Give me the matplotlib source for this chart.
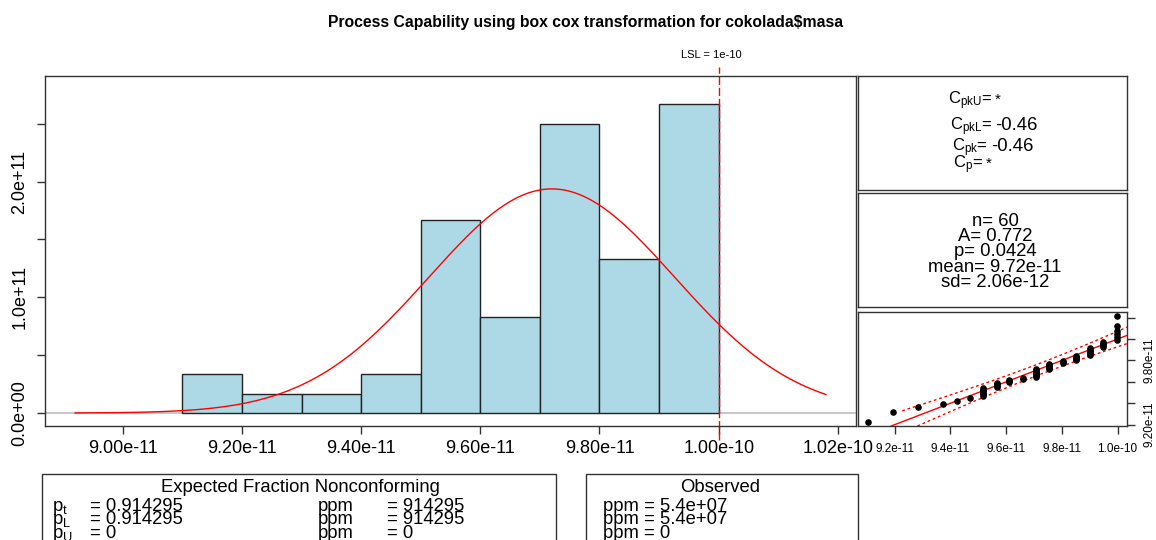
import numpy as np
import matplotlib.pyplot as plt
from matplotlib.patches import Rectangle
from statistics import NormalDist

plt.rcParams['font.family'] = ['Liberation Sans', 'DejaVu Sans']
plt.rcParams['mathtext.fontset'] = 'custom'
plt.rcParams['mathtext.rm'] = 'Liberation Sans'
plt.rcParams['mathtext.it'] = 'Liberation Sans:italic'

# box-cox transformed masses (distinct values and how often they occur)
masa_values = np.array([9.104, 9.194, 9.284, 9.374, 9.422, 9.470, 9.518, 9.566, 9.611,
                        9.659, 9.707, 9.755, 9.803, 9.851, 9.902, 9.947, 9.998]) * 1e-11
masa_counts = [1, 1, 1, 1, 1, 1, 6, 4, 3, 2, 9, 6, 3, 5, 6, 4, 6]
bin_edges = np.array([9.1, 9.2, 9.3, 9.4, 9.5, 9.6, 9.7, 9.8, 9.9, 10.0]) * 1e-11

lsl = 1e-10
fit_mean = 9.72e-11
fit_sd = 2.06e-12
curve_range = [8.92e-11, 1.018e-10]

hist_xticks = np.array([9.0, 9.2, 9.4, 9.6, 9.8, 10.0, 10.2]) * 1e-11
hist_yticks = [0, 0.5e11, 1.0e11, 1.5e11, 2.0e11, 2.5e11]
qq_xticks = np.array([9.2, 9.4, 9.6, 9.8, 10.0]) * 1e-11
qq_yticks = np.array([9.2, 9.4, 9.6, 9.8, 10.0, 10.2]) * 1e-11
qq_ylabeled = [9.2e-11, 9.8e-11]

cap_labels = [r"$\mathrm{C}_{\mathrm{pkU}}$=", r"$\mathrm{C}_{\mathrm{pkL}}$=",
              r"$\mathrm{C}_{\mathrm{pk}}$=", r"$\mathrm{C}_{\mathrm{p}}$="]
cap_values = ["*", "-0.46", "-0.46", "*"]
stat_lines = ["n= 60", "A= 0.772", "p= 0.0424", "mean= 9.72e-11", "sd= 2.06e-12"]
exp_labels = [r"$\mathrm{p}_\mathrm{t}$", r"$\mathrm{p}_\mathrm{L}$", r"$\mathrm{p}_\mathrm{U}$"]
exp_values = ["= 0.914295", "= 0.914295", "= 0"]
exp_ppm = ["= 914295", "= 914295", "= 0"]
obs_ppm = ["ppm = 5.4e+07", "ppm = 5.4e+07", "ppm = 0"]

W, H = 1156, 540
data = np.repeat(masa_values, masa_counts)
n = len(data)


def fx(px):
    return px / W


def fy(py):
    return 1 - py / H


def rect(x0, y0, x1, y1):
    return [fx(x0), fy(y1), fx(x1) - fx(x0), fy(y0) - fy(y1)]


fig = plt.figure(figsize=(W / 100, H / 100), dpi=100)
fig.text(fx(586), fy(22), "Process Capability using box cox transformation for cokolada$masa",
         ha='center', va='center', fontsize=11.3, fontweight='bold')

# --- histogram with fitted normal
ax = fig.add_axes(rect(45, 76, 856, 426))
dens = ax.hist(data, bins=bin_edges, density=True, color='#ADD8E6',
               edgecolor='#222222', linewidth=1)[0]
dist = NormalDist(fit_mean, fit_sd)
xs = np.linspace(curve_range[0], curve_range[1], 150)
ax.plot(xs, [dist.pdf(v) for v in xs], color='red', lw=1)
ax.axhline(0, color='#BEBEBE', lw=1.2, zorder=0)
ax.axvline(lsl, ymin=-0.04, ymax=1.026, color='red', lw=1, ls=(0, (6, 2)), clip_on=False)
ax.annotate("LSL = 1e-10", xy=(lsl, 1), xycoords=('data', 'axes fraction'),
            xytext=(-5, 15), textcoords='offset points', ha='center', va='center', fontsize=8)

span = curve_range[1] - curve_range[0]
ax.set_xlim(curve_range[0] - 0.04 * span, curve_range[1] + 0.04 * span)
ytop = dens.max() * 1.05
ax.set_ylim(-0.04 * ytop, 1.04 * ytop)
ax.set_xticks(hist_xticks)
ax.set_xticklabels(["%.2e" % v for v in hist_xticks])
ax.set_yticks(hist_yticks)
ax.set_yticklabels(["%.1e" % v if v % 1e11 == 0 else "" for v in hist_yticks],
                   rotation=90, va='center')
ax.tick_params(axis='both', length=6, width=1, labelsize=13, pad=4, color='#333333')
ax.tick_params(axis='y', pad=6)
for s in ax.spines.values():
    s.set_linewidth(1)
    s.set_color('#333333')

# --- capability indices box
ax_cap = fig.add_axes(rect(858, 76, 1127, 190))
ax_cap.set_xticks([])
ax_cap.set_yticks([])
cap_join = [992, 992, 988, 983]
cap_base = [104, 130, 151, 168]
for lab, val, xj, yb in zip(cap_labels, cap_values, cap_join, cap_base):
    fig.text(fx(xj), fy(yb), lab, ha='right', va='baseline', fontsize=12)
    fig.text(fx(xj + 3), fy(yb), val, ha='left', va='baseline',
             fontsize=11 if val == "*" else 13.3)

# --- statistics box
ax_st = fig.add_axes(rect(858, 193, 1127, 307))
ax_st.set_xticks([])
ax_st.set_yticks([])
for i, line in enumerate(stat_lines):
    fig.text(fx(995), fy(226 + 15.2 * i), line, ha='center', va='baseline', fontsize=13.3)

# --- qq plot
ax_qq = fig.add_axes(rect(858, 312, 1127, 426))
xs_qq = np.sort(data)
pp = (np.arange(1, n + 1) - 0.5) / n
theo = np.array([dist.inv_cdf(p) for p in pp])
z = (theo - fit_mean) / fit_sd
band = 1.96 * fit_sd * np.sqrt(1 + z ** 2 / 2) / np.sqrt(n)
ax_qq.plot(theo, theo + band, color='red', lw=1, ls=(0, (2, 2)))
ax_qq.plot(theo, theo - band, color='red', lw=1, ls=(0, (2, 2)))
ax_qq.axline((fit_mean, fit_mean), slope=1, color='red', lw=1)
ax_qq.scatter(xs_qq, theo, s=14, color='black', zorder=3)
xr = xs_qq.max() - xs_qq.min()
yr = theo.max() - theo.min()
ax_qq.set_xlim(xs_qq.min() - 0.04 * xr, xs_qq.max() + 0.04 * xr)
ax_qq.set_ylim(theo.min() - 0.04 * yr, theo.max() + 0.04 * yr)
ax_qq.set_xticks(qq_xticks)
ax_qq.set_xticklabels(["%.1e" % v for v in qq_xticks])
ax_qq.yaxis.tick_right()
ax_qq.set_yticks(qq_yticks)
ax_qq.set_yticklabels(["%.2e" % v if any(abs(v - q) < 1e-14 for q in qq_ylabeled) else ""
                       for v in qq_yticks], rotation=90, va='center')
ax_qq.tick_params(axis='both', length=6, width=1, labelsize=8.5, pad=6, color='#333333')
for a in (ax_cap, ax_st, ax_qq):
    for s in a.spines.values():
        s.set_linewidth(1)
        s.set_color('#333333')

# --- bottom boxes (run off the page)
fig.add_artist(Rectangle((fx(42), fy(620)), fx(556) - fx(42), fy(474) - fy(620),
                         transform=fig.transFigure, fill=False, ec='#333333', lw=1, clip_on=False))
fig.text(fx(300), fy(492), "Expected Fraction Nonconforming", ha='center', va='baseline', fontsize=13.3)
for i in range(3):
    yb = fy(511 + 13.5 * i)
    fig.text(fx(52), yb, exp_labels[i], ha='left', va='baseline', fontsize=13.3)
    fig.text(fx(90), yb, exp_values[i], ha='left', va='baseline', fontsize=13.3)
    fig.text(fx(318), yb, "ppm", ha='left', va='baseline', fontsize=13.3)
    fig.text(fx(387), yb, exp_ppm[i], ha='left', va='baseline', fontsize=13.3)

fig.add_artist(Rectangle((fx(586), fy(620)), fx(858) - fx(586), fy(474) - fy(620),
                         transform=fig.transFigure, fill=False, ec='#333333', lw=1, clip_on=False))
fig.text(fx(720), fy(492), "Observed", ha='center', va='baseline', fontsize=13.3)
for i in range(3):
    fig.text(fx(603), fy(511 + 13.5 * i), obs_ppm[i], ha='left', va='baseline', fontsize=13.3)

fig.savefig("out.png", dpi=100)
